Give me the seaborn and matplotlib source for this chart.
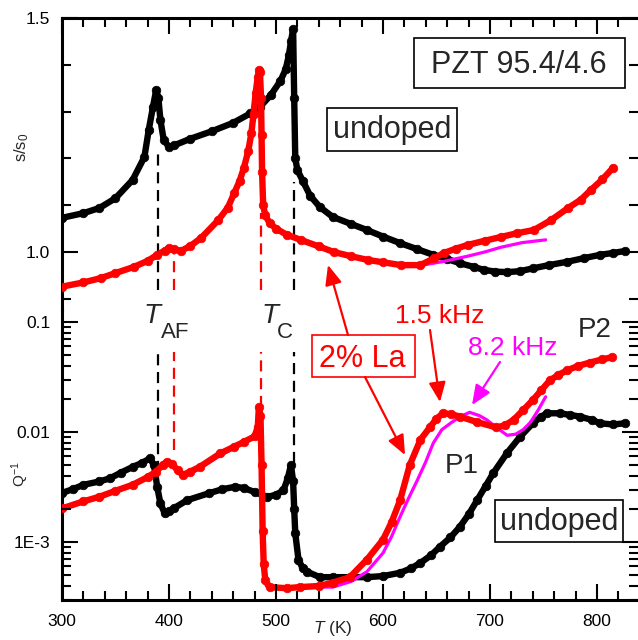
import matplotlib
matplotlib.use("Agg")
import matplotlib.pyplot as plt
import pandas as pd
import seaborn as sns
from matplotlib.patches import Rectangle, FancyArrowPatch
from matplotlib.ticker import FixedLocator, FuncFormatter, NullLocator

# ---------------- data ----------------
# s/s0, undoped (black)
T_s_undoped = [300, 320, 335, 350, 366, 377, 381, 385, 388, 390, 392, 395, 400, 405, 420, 440,
               460, 476, 485, 495, 504, 509, 512, 514, 516, 517, 518, 520, 525, 532, 541, 553,
               570, 585, 600, 616, 632, 647, 660, 672, 685, 694, 705, 716, 728, 740, 755, 772,
               788, 803, 815, 826]
s_undoped = [1.073, 1.083, 1.094, 1.115, 1.154, 1.203, 1.260, 1.310, 1.346, 1.330, 1.282, 1.240,
             1.224, 1.228, 1.242, 1.258, 1.276, 1.296, 1.310, 1.335, 1.365, 1.390, 1.420, 1.450,
             1.476, 1.330, 1.200, 1.175, 1.152, 1.120, 1.096, 1.075, 1.060, 1.047, 1.033, 1.019,
             1.006, 0.994, 0.985, 0.976, 0.968, 0.962, 0.958, 0.957, 0.959, 0.965, 0.972, 0.979,
             0.987, 0.994, 0.998, 1.002]

# s/s0, 2% La, 1.5 kHz (red)
T_s_la = [300, 320, 336, 350, 367, 380, 389, 396, 400, 405, 411, 420, 430, 446, 455, 461, 466,
          470, 474, 477, 479, 481, 483, 484, 485, 486, 486.5, 487, 488, 490, 494, 500, 510, 523,
          540, 554, 570, 586, 600, 617, 635, 648, 657, 668, 679, 695, 710, 725, 741, 757, 773,
          785, 794, 805, 815]
s_la = [0.926, 0.935, 0.944, 0.955, 0.968, 0.981, 0.994, 1.003, 1.008, 1.006, 1.002, 1.013,
        1.030, 1.068, 1.095, 1.126, 1.152, 1.180, 1.215, 1.254, 1.295, 1.340, 1.375, 1.389,
        1.385, 1.330, 1.250, 1.170, 1.100, 1.078, 1.062, 1.050, 1.037, 1.026, 1.012, 1.000,
        0.991, 0.983, 0.978, 0.972, 0.972, 0.987, 0.998, 1.007, 1.015, 1.024, 1.032, 1.040,
        1.047, 1.068, 1.094, 1.112, 1.132, 1.155, 1.180]

# s/s0, 2% La, 8.2 kHz (magenta)
T_s_la82 = [455, 461, 466, 470, 474, 477, 479, 481, 483, 484.5, 486, 487.5, 488.5, 490, 494, 500,
            510, 523, 540, 554, 570, 586, 600, 617, 637, 657, 679, 695, 710, 730, 752]
s_la82 = [1.095, 1.126, 1.152, 1.180, 1.215, 1.254, 1.295, 1.340, 1.370, 1.380, 1.350, 1.200,
          1.090, 1.078, 1.062, 1.050, 1.037, 1.026, 1.012, 1.000, 0.991, 0.983, 0.978, 0.973,
          0.972, 0.980, 0.991, 1.000, 1.010, 1.020, 1.026]

# Q^-1, undoped (black)
T_q_undoped = [300, 310, 320, 335, 345, 355, 366, 375, 382, 386, 389, 392, 396, 400, 405, 417,
               437, 450, 462, 470, 480, 492, 500, 507, 511, 514, 516, 517, 518, 521, 525, 529,
               541, 553, 570, 585, 600, 616, 626, 635, 645, 653, 663, 672, 680, 688, 696, 703,
               716, 728, 740, 748, 753, 765, 775, 784, 795, 803, 815, 826]
q_undoped = [2.79e-3, 3.02e-3, 3.31e-3, 3.55e-3, 3.80e-3, 4.27e-3, 4.81e-3, 5.25e-3, 5.75e-3,
             5.01e-3, 3.16e-3, 2.24e-3, 1.82e-3, 1.91e-3, 2.04e-3, 2.40e-3, 2.77e-3, 3.02e-3,
             3.18e-3, 3.09e-3, 2.85e-3, 2.57e-3, 2.69e-3, 2.95e-3, 3.80e-3, 5.01e-3, 3.55e-3,
             2.00e-3, 1.20e-3, 6.92e-4, 5.75e-4, 5.37e-4, 4.79e-4, 4.79e-4, 4.79e-4, 4.79e-4,
             4.90e-4, 5.25e-4, 5.75e-4, 6.46e-4, 7.59e-4, 9.02e-4, 1.10e-3, 1.38e-3, 1.78e-3,
             2.40e-3, 3.24e-3, 4.22e-3, 6.46e-3, 9.02e-3, 1.20e-2, 1.38e-2, 1.48e-2, 1.48e-2,
             1.43e-2, 1.38e-2, 1.29e-2, 1.20e-2, 1.17e-2, 1.20e-2]

# Q^-1, 2% La, 1.5 kHz (red)
T_q_la = [300, 320, 335, 350, 366, 380, 388, 394, 398, 403, 408, 413, 420, 429, 448, 461, 470,
          480, 483, 484, 485.5, 486.5, 487.5, 488.5, 490, 494, 510, 522, 540, 553, 569, 585,
          600, 608, 616, 625, 635, 644, 650, 656, 664, 672, 688, 706, 714, 722, 731, 740, 748,
          756, 764, 772, 782, 793, 805, 814]
q_la = [2.02e-3, 2.34e-3, 2.58e-3, 2.92e-3, 3.31e-3, 3.89e-3, 4.37e-3, 5.01e-3, 5.37e-3,
        5.13e-3, 4.47e-3, 4.07e-3, 4.37e-3, 4.84e-3, 6.40e-3, 7.36e-3, 8.13e-3, 9.12e-3,
        1.12e-2, 1.70e-2, 1.41e-2, 5.01e-3, 1.26e-3, 6.31e-4, 4.47e-4, 3.89e-4, 3.80e-4,
        3.89e-4, 3.98e-4, 4.27e-4, 4.79e-4, 6.92e-4, 1.05e-3, 1.51e-3, 2.40e-3, 5.01e-3,
        8.51e-3, 1.11e-2, 1.32e-2, 1.48e-2, 1.45e-2, 1.38e-2, 1.23e-2, 1.10e-2, 1.15e-2,
        1.29e-2, 1.58e-2, 1.95e-2, 2.40e-2, 2.95e-2, 3.31e-2, 3.63e-2, 3.98e-2, 4.27e-2,
        4.57e-2, 4.79e-2]

# Q^-1, 2% La, 8.2 kHz (magenta)
T_q_la82 = [395, 400, 405, 414, 420, 429, 445, 460, 470, 480, 484, 486, 487.5, 489, 491, 500,
            520, 540, 553, 570, 585, 600, 608, 616, 624, 632, 640, 647, 655, 663, 672, 681, 690,
            697, 706, 716, 724, 731, 738, 745, 752]
q_la82 = [5.01e-3, 5.25e-3, 4.90e-3, 3.89e-3, 4.17e-3, 4.68e-3, 5.89e-3, 7.08e-3, 8.13e-3,
          9.12e-3, 1.41e-2, 6.31e-3, 1.26e-3, 5.01e-4, 3.98e-4, 3.80e-4, 3.80e-4, 3.89e-4,
          3.89e-4, 4.37e-4, 5.37e-4, 7.94e-4, 1.12e-3, 1.70e-3, 2.51e-3, 3.63e-3, 5.37e-3,
          7.94e-3, 1.05e-2, 1.20e-2, 1.38e-2, 1.51e-2, 1.41e-2, 1.29e-2, 1.10e-2, 9.33e-3,
          9.55e-3, 1.05e-2, 1.23e-2, 1.58e-2, 2.09e-2]

# transition temperatures (dashed markers)
T_AF_undoped, T_AF_la = 389.4, 404.4
T_C_undoped, T_C_la = 516.5, 486.0
dash_top = [(T_AF_undoped, "black", 1.222), (T_AF_la, "red", 1.000),
            (T_C_la, "red", 1.083), (T_C_undoped, "black", 1.150)]
dash_bot = [(T_AF_undoped, "black", 4.3e-3), (T_AF_la, "red", 6.9e-3),
            (T_C_la, "red", 1.7e-2), (T_C_undoped, "black", 5.2e-3)]

# ticks
x_major = [300, 400, 500, 600, 700, 800]
x_minor = [t for t in range(320, 840, 20) if t not in x_major]
s_major = [1.0, 1.5]
s_minor = [0.9, 1.1, 1.2, 1.3, 1.4]
q_major = [1e-3, 1e-2, 1e-1]
q_labels = ["1E-3", "0.01", "0.1"]
q_minor = [m * d for d in (1e-4, 1e-3, 1e-2) for m in range(3, 10)] + [2e-3, 2e-2]

# ---------------- style ----------------
sns.set_style("ticks")
plt.rcParams["font.family"] = ["Liberation Sans", "DejaVu Sans"]
plt.rcParams["mathtext.fontset"] = "custom"
plt.rcParams["mathtext.rm"] = "Liberation Sans"
plt.rcParams["mathtext.it"] = "Liberation Sans:italic"

W, H = 638, 640
fig = plt.figure(figsize=(W / 100, H / 100), dpi=100)


def fx(x):
    return x / W


def fy(y):
    return 1 - y / H


X0, X1 = 62, 637.5
Y_TOP, Y_SPLIT, Y_BOT = 18, 310, 600
ax1 = fig.add_axes([fx(X0), fy(Y_SPLIT), (X1 - X0) / W, (Y_SPLIT - Y_TOP) / H])
ax2 = fig.add_axes([fx(X0), fy(Y_BOT), (X1 - X0) / W, (Y_BOT - Y_SPLIT) / H])
for ax in (ax1, ax2):
    ax.set_facecolor("none")
ax2.set_yscale("log")

xmax = 300 + (X1 - X0) / 1.07
px_per_01 = 468.0
dec = 110.0

LW, MS = 4.6, 6.2
df_bs = pd.DataFrame({"T": T_s_undoped, "v": s_undoped})
df_rs = pd.DataFrame({"T": T_s_la, "v": s_la})
df_ms = pd.DataFrame({"T": T_s_la82, "v": s_la82})
df_bq = pd.DataFrame({"T": T_q_undoped, "v": q_undoped})
df_rq = pd.DataFrame({"T": T_q_la, "v": q_la})
df_mq = pd.DataFrame({"T": T_q_la82, "v": q_la82})

for ax, dfb, dfm, dfr in ((ax1, df_bs, df_ms, df_rs), (ax2, df_bq, df_mq, df_rq)):
    sns.lineplot(data=dfb, x="T", y="v", ax=ax, color="black", lw=LW, marker="o", ms=MS,
                 mec="black", mew=0.5, estimator=None, sort=False, legend=False, zorder=3)
    sns.lineplot(data=dfm, x="T", y="v", ax=ax, color="#ff00ff", lw=2.3,
                 estimator=None, sort=False, legend=False, zorder=4)
    sns.lineplot(data=dfr, x="T", y="v", ax=ax, color="#ff0000", lw=LW, marker="o", ms=MS,
                 mec="#ff0000", mew=0.5, estimator=None, sort=False, legend=False, zorder=5)
    ax.set_xlabel("")
    ax.set_ylabel("")

s_low = 1.5 - (290 - Y_TOP) / px_per_01
for t, c, top in dash_top:
    ax1.plot([t, t], [s_low, top], color=c, lw=1.6, ls=(0, (5, 3)), zorder=2)
q_high = 10 ** (-1 - (352 - 322) / dec)
for t, c, bot in dash_bot:
    ax2.plot([t, t], [bot, q_high], color=c, lw=1.6, ls=(0, (5, 3)), zorder=2)

# ---------------- axes / spines ----------------
for ax in (ax1, ax2):
    ax.spines["right"].set_visible(False)
    ax.spines["left"].set_linewidth(2.2)
    ax.spines["left"].set_color("black")
ax1.spines["bottom"].set_visible(False)
ax1.spines["top"].set_linewidth(2.2)
ax1.spines["top"].set_color("black")
ax2.spines["top"].set_visible(False)
ax2.spines["bottom"].set_linewidth(2.2)
ax2.spines["bottom"].set_color("black")

# tick labels (tick marks themselves drawn as short line segments below)
for ax in (ax1, ax2):
    ax.xaxis.set_major_locator(FixedLocator(x_major))
    ax.xaxis.set_minor_locator(NullLocator())
    ax.yaxis.set_minor_locator(NullLocator())
ax1.yaxis.set_major_locator(FixedLocator(s_major))
ax1.yaxis.set_major_formatter(FuncFormatter(lambda v, p: f"{v:.1f}"))
ax2.yaxis.set_major_locator(FixedLocator(q_major))
ax2.yaxis.set_major_formatter(
    FuncFormatter(lambda v, p: q_labels[min(range(3), key=lambda i: abs(q_major[i] / v - 1))]))
ax1.tick_params(axis="x", which="both", length=0, labelbottom=False, labeltop=False,
                bottom=False, top=False)
ax2.tick_params(axis="x", which="both", length=0, labelbottom=True, labelsize=12.5, pad=10,
                labelcolor="black")
for ax in (ax1, ax2):
    ax.tick_params(axis="y", which="both", length=0, labelleft=True, labelsize=12.5, pad=8.5,
                   labelcolor="black")

AXW = X1 - X0
TK = dict(color="black", lw=1.5, solid_capstyle="butt", clip_on=False, zorder=6)


def yticks(ax, vals, length):
    tr = ax.get_yaxis_transform()
    for v in vals:
        ax.plot([0, length / AXW], [v, v], transform=tr, **TK)
        ax.plot([1, 1 - length / AXW], [v, v], transform=tr, **TK)


def xticks(ax, vals, length, y0, axh):
    tr = ax.get_xaxis_transform()
    sgn = -1 if y0 == 1 else 1
    for v in vals:
        ax.plot([v, v], [y0, y0 + sgn * length / axh], transform=tr, **TK)


yticks(ax1, s_major, 16)
yticks(ax1, s_minor, 9)
yticks(ax2, q_major, 16)
yticks(ax2, q_minor, 9)
xticks(ax1, x_major, 16, 1, Y_SPLIT - Y_TOP)
xticks(ax1, x_minor, 9, 1, Y_SPLIT - Y_TOP)
xticks(ax2, x_major, 16, 0, Y_BOT - Y_SPLIT)
xticks(ax2, x_minor, 9, 0, Y_BOT - Y_SPLIT)

ax1.set_xlim(300, xmax)
ax2.set_xlim(300, xmax)
ax1.set_ylim(1.5 - (Y_SPLIT - Y_TOP) / px_per_01, 1.5)
ax2.set_ylim(10 ** (-1 - (Y_BOT - 322) / dec), 10 ** (-1 + (322 - Y_SPLIT) / dec))

# axis titles
fig.text(fx(22), fy(147), r"s/s$_\mathregular{0}$", rotation=90, ha="center", va="center",
         fontsize=12)
fig.text(fx(20), fy(474), r"Q$^\mathregular{-1}$", rotation=90, ha="center", va="center",
         fontsize=11)
fig.text(fx(313), fy(633), r"$\mathit{T}$ (K)", ha="left", va="baseline", fontsize=12.5)

# transition labels
fig.text(fx(144), fy(323), "T", style="italic", fontsize=20, ha="left", va="baseline")
fig.text(fx(161), fy(338), "AF", fontsize=16, ha="left", va="baseline")
fig.text(fx(262), fy(323), "T", style="italic", fontsize=20, ha="left", va="baseline")
fig.text(fx(277), fy(338), "C", fontsize=16, ha="left", va="baseline")


def box(x0, y0, x1, y1, ec):
    fig.add_artist(Rectangle((fx(x0), fy(y1)), (x1 - x0) / W, (y1 - y0) / H,
                             transform=fig.transFigure, fc="white", ec=ec, lw=1.2, zorder=10))


box(414, 38, 625, 88, "black")
box(327, 108, 457, 151, "black")
box(495, 500, 623, 542, "black")
box(312, 335, 415, 377, "red")

fig.text(fx(519), fy(73), "PZT 95.4/4.6", ha="center", va="baseline", fontsize=22, zorder=11)
fig.text(fx(392), fy(138), "undoped", ha="center", va="baseline", fontsize=22, zorder=11)
fig.text(fx(559), fy(530), "undoped", ha="center", va="baseline", fontsize=22, zorder=11)
fig.text(fx(362), fy(367), "2% La", ha="center", va="baseline", fontsize=22, color="red",
         zorder=11)
fig.text(fx(440), fy(323), "1.5 kHz", ha="center", va="baseline", fontsize=19, color="red",
         zorder=11)
fig.text(fx(513), fy(355), "8.2 kHz", ha="center", va="baseline", fontsize=19,
         color="#ff00ff", zorder=11)
fig.text(fx(595), fy(337), "P2", ha="center", va="baseline", fontsize=20, zorder=11)
fig.text(fx(462), fy(473), "P1", ha="center", va="baseline", fontsize=20, zorder=11)


def arrow(xa, ya, xb, yb, c):
    fig.add_artist(FancyArrowPatch((fx(xa), fy(ya)), (fx(xb), fy(yb)),
                                   transform=fig.transFigure,
                                   arrowstyle="-|>,head_length=0.75,head_width=0.32",
                                   mutation_scale=16, color=c, lw=1.6,
                                   shrinkA=0, shrinkB=0, zorder=12))


arrow(348, 335, 328, 265, "red")
arrow(365, 377, 405, 455, "red")
arrow(430, 330, 440, 402, "red")
arrow(500, 362, 472, 405, "#ff00ff")

fig.savefig("out.png", dpi=100)
